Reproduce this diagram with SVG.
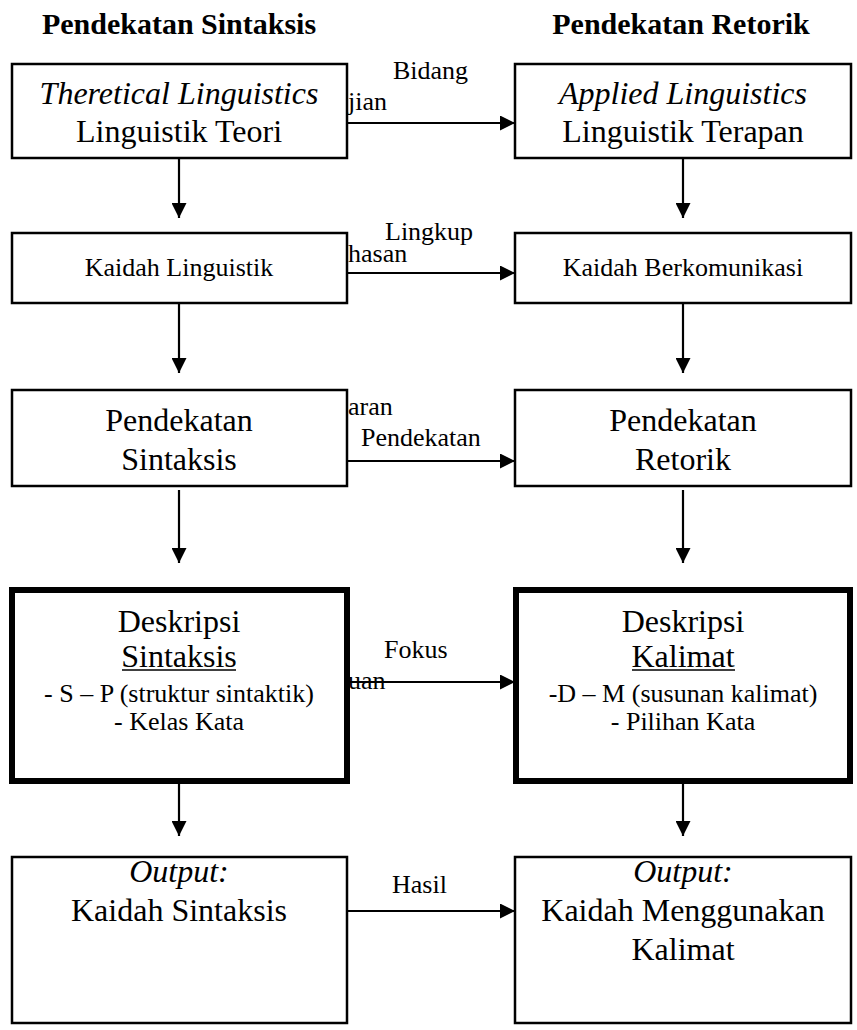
<svg xmlns="http://www.w3.org/2000/svg" width="857" height="1030" viewBox="0 0 857 1030" font-family="'Liberation Serif', Tinos, 'Times New Roman', 'DejaVu Serif', serif">
<style>
text{font-family:'Liberation Serif',Tinos,'Times New Roman','DejaVu Serif',serif;fill:#000;}
.t{font-size:30px;font-weight:bold;text-anchor:middle;}
.big{font-size:32px;text-anchor:middle;}
.mid{font-size:26px;text-anchor:middle;}
.lbl{font-size:26px;}
.it{font-style:italic;}
.box{fill:#fff;stroke:#000;stroke-width:2.5;}
.thick{fill:#fff;stroke:#000;stroke-width:6;}
.ln{stroke:#000;stroke-width:2.2;fill:none;}
.ul{stroke:#000;stroke-width:1.5;}
</style>
<defs>
<marker id="ah" viewBox="0 0 10 10" refX="10" refY="5" markerWidth="15" markerHeight="15" markerUnits="userSpaceOnUse" orient="auto">
<path d="M0,0 L10,5 L0,10 Z" fill="#000"/>
</marker>
</defs>
<rect width="857" height="1030" fill="#fff"/>
<g id="titles">
<text class="t" x="179" y="34">Pendekatan Sintaksis</text>
<text class="t" x="681" y="34">Pendekatan Retorik</text>
</g>
<g id="connectors">
<line class="ln" x1="347" y1="123" x2="515" y2="123" marker-end="url(#ah)"/>
<line class="ln" x1="347" y1="273" x2="515" y2="273" marker-end="url(#ah)"/>
<line class="ln" x1="347" y1="461" x2="515" y2="461" marker-end="url(#ah)"/>
<line class="ln" x1="350" y1="682" x2="515" y2="682" marker-end="url(#ah)"/>
<line class="ln" x1="347" y1="911" x2="515" y2="911" marker-end="url(#ah)"/>
<line class="ln" x1="179" y1="158" x2="179" y2="218" marker-end="url(#ah)"/>
<line class="ln" x1="683" y1="158" x2="683" y2="218" marker-end="url(#ah)"/>
<line class="ln" x1="179" y1="304" x2="179" y2="373" marker-end="url(#ah)"/>
<line class="ln" x1="683" y1="304" x2="683" y2="373" marker-end="url(#ah)"/>
<line class="ln" x1="179" y1="490" x2="179" y2="563" marker-end="url(#ah)"/>
<line class="ln" x1="683" y1="490" x2="683" y2="563" marker-end="url(#ah)"/>
<line class="ln" x1="179" y1="784" x2="179" y2="836" marker-end="url(#ah)"/>
<line class="ln" x1="683" y1="784" x2="683" y2="836" marker-end="url(#ah)"/>
<text class="lbl" x="393" y="79">Bidang</text>
<text class="lbl" x="348" y="110">jian</text>
<text class="lbl" x="385" y="240">Lingkup</text>
<text class="lbl" x="348" y="262">hasan</text>
<text class="lbl" x="348" y="415">aran</text>
<text class="lbl" x="361" y="446">Pendekatan</text>
<text class="lbl" x="384" y="658">Fokus</text>
<text class="lbl" x="348" y="689">uan</text>
<text class="lbl" x="392" y="893">Hasil</text>
</g>
<g id="n1l">
<rect class="box" x="12" y="64" width="335" height="94"/>
<text class="big it" x="179" y="104">Theretical Linguistics</text>
<text class="big" x="179" y="142">Linguistik Teori</text>
</g>
<g id="n1r">
<rect class="box" x="515" y="64" width="336" height="94"/>
<text class="big it" x="683" y="104">Applied Linguistics</text>
<text class="big" x="683" y="142">Linguistik Terapan</text>
</g>
<g id="n2l">
<rect class="box" x="12" y="233" width="335" height="70"/>
<text class="mid" x="179" y="276">Kaidah Linguistik</text>
</g>
<g id="n2r">
<rect class="box" x="515" y="233" width="336" height="70"/>
<text class="mid" x="683" y="276">Kaidah Berkomunikasi</text>
</g>
<g id="n3l">
<rect class="box" x="12" y="390" width="335" height="96"/>
<text class="big" x="179" y="431">Pendekatan</text>
<text class="big" x="179" y="470">Sintaksis</text>
</g>
<g id="n3r">
<rect class="box" x="515" y="390" width="336" height="96"/>
<text class="big" x="683" y="431">Pendekatan</text>
<text class="big" x="683" y="470">Retorik</text>
</g>
<g id="n4l">
<rect class="thick" x="12" y="590" width="335" height="191"/>
<text class="big" x="179" y="632">Deskripsi</text>
<text class="big" x="179" y="667">Sintaksis</text>
<line class="ul" x1="122" y1="670" x2="236" y2="670"/>
<text class="mid" x="179" y="702">- S – P (struktur sintaktik)</text>
<text class="mid" x="179" y="730">- Kelas Kata</text>
</g>
<g id="n4r">
<rect class="thick" x="516" y="590" width="334" height="191"/>
<text class="big" x="683" y="632">Deskripsi</text>
<text class="big" x="683" y="667">Kalimat</text>
<line class="ul" x1="632" y1="670" x2="735" y2="670"/>
<text class="mid" x="683" y="702">-D – M (susunan kalimat)</text>
<text class="mid" x="683" y="730">- Pilihan Kata</text>
</g>
<g id="n5l">
<rect class="box" x="12" y="857" width="335" height="166"/>
<text class="big it" x="179" y="882">Output:</text>
<text class="big" x="179" y="921">Kaidah Sintaksis</text>
</g>
<g id="n5r">
<rect class="box" x="515" y="857" width="336" height="166"/>
<text class="big it" x="683" y="882">Output:</text>
<text class="big" x="683" y="921">Kaidah Menggunakan</text>
<text class="big" x="683" y="960">Kalimat</text>
</g>
</svg>
